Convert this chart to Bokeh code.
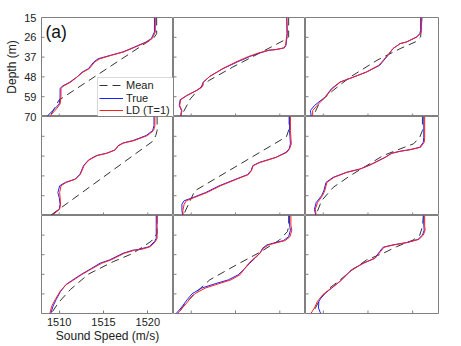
import math
from bokeh.plotting import figure
from bokeh.layouts import gridplot, row
from bokeh.models import Range1d, FixedTicker, Legend, LegendItem, Label, BoxAnnotation
from bokeh.embed import file_html
from bokeh.resources import INLINE

# ---------------- data (depth in m, sound speed in m/s) ----------------
x_ticks = [1510, 1515, 1520]
y_ticks = [15, 26, 37, 48, 59, 70]
legend_labels = ["Mean", "True", "LD (T=1)"]

# row 1, col 1
d11 = [15, 23, 26.7, 28.6, 31.4, 34.1, 36, 37.9, 39.7, 43.4, 45.3, 48.1, 50.9, 53.3, 54.6, 59.2, 63, 65.7, 69.5, 70]
t11 = [1520.75, 1520.75, 1520.4, 1519.8, 1518.5, 1517.2, 1515.8, 1514.4, 1513.9, 1513.3, 1512.6, 1512.0, 1511.2, 1510.3, 1510.1, 1510.1, 1510.0, 1509.5, 1508.7, 1508.6]
l11 = [1520.85, 1520.85, 1520.5, 1519.9, 1518.6, 1517.3, 1515.9, 1514.6, 1514.0, 1513.4, 1512.7, 1512.0, 1511.3, 1510.4, 1510.2, 1510.2, 1510.1, 1509.7, 1509.0, 1508.9]
md11 = [15, 24, 26.2, 61, 70]
m11 = [1521.0, 1521.0, 1520.7, 1509.95, 1508.95]

# row 1, col 2
d12 = [15, 23.9, 30.4, 31.9, 32.8, 33.2, 34.7, 36.6, 39.7, 43.4, 47.7, 50.9, 53.7, 55.5, 58.3, 60.7, 63.9, 66.7, 70]
t12 = [1520.8, 1520.85, 1520.7, 1520.5, 1519.6, 1518.8, 1517.75, 1516.65, 1515.2, 1513.6, 1512.1, 1511.35, 1511.15, 1510.6, 1509.5, 1508.75, 1508.65, 1508.9, 1508.8]
l12 = [1520.75, 1520.8, 1520.65, 1520.45, 1519.55, 1518.7, 1517.6, 1516.5, 1515.05, 1513.55, 1512.1, 1511.4, 1511.2, 1510.65, 1509.55, 1508.8, 1508.7, 1508.95, 1508.85]
md12 = [15, 25.8, 27.6, 42.5, 50, 54, 60.2, 70]
m12 = [1521.0, 1521.0, 1520.5, 1514.7, 1512.0, 1511.0, 1509.9, 1508.85]

# row 1, col 3
d13 = [15, 22.1, 23.9, 25.8, 28.6, 29.5, 32.3, 36, 41.6, 45.3, 48.1, 50.9, 54.6, 59.2, 63.9, 66.7, 70]
t13 = [1520.9, 1520.9, 1520.8, 1520.45, 1519.3, 1518.6, 1517.8, 1517.25, 1516.3, 1514.85, 1513.35, 1511.85, 1510.9, 1510.2, 1509.0, 1508.55, 1508.65]
l13 = [1521.0, 1521.0, 1520.9, 1520.5, 1519.35, 1518.6, 1517.8, 1517.2, 1516.2, 1514.8, 1513.4, 1511.9, 1511.0, 1510.2, 1509.3, 1508.8, 1508.8]
md13 = [15, 25.8, 28.6, 32.3, 38.8, 48.1, 55.5, 62, 70]
m13 = [1521.05, 1520.9, 1520.3, 1518.6, 1516.0, 1513.0, 1511.1, 1509.6, 1508.85]

# row 2, col 1
d21 = [15, 20, 22.8, 25.6, 28.4, 29.7, 31.2, 33.6, 35.4, 36.7, 39.2, 42.3, 47, 49.8, 51.6, 53.5, 57.2, 60, 63.7, 66.5, 68.3, 70]
t21 = [1520.7, 1520.7, 1520.55, 1519.8, 1518.3, 1517.2, 1516.65, 1516.3, 1515.35, 1514.2, 1513.3, 1512.75, 1512.35, 1511.8, 1510.7, 1510.05, 1509.85, 1510.0, 1510.1, 1510.0, 1509.55, 1509.2]
l21 = [1520.8, 1520.8, 1520.65, 1519.95, 1518.45, 1517.3, 1516.7, 1516.3, 1515.4, 1514.3, 1513.35, 1512.8, 1512.4, 1511.85, 1510.8, 1510.2, 1510.05, 1510.1, 1510.15, 1510.05, 1509.6, 1509.25]
md21 = [15, 22.8, 25.6, 28.8, 70]
m21 = [1521.05, 1521.05, 1520.9, 1520.55, 1509.0]

# row 2, col 2
d22 = [15, 22.8, 30.2, 33, 34.9, 37.7, 40.5, 42.3, 45.1, 47.3, 49.8, 53.5, 57.2, 60, 61.8, 63.7, 67.4, 70]
t22 = [1521.1, 1521.1, 1521.2, 1521.05, 1520.7, 1519.55, 1517.7, 1516.95, 1516.75, 1516.35, 1515.05, 1513.15, 1511.65, 1510.2, 1509.2, 1508.95, 1508.95, 1509.05]
l22 = [1521.2, 1521.2, 1521.3, 1521.1, 1520.8, 1519.6, 1517.8, 1517.0, 1516.8, 1516.45, 1515.15, 1513.3, 1511.8, 1510.35, 1509.45, 1509.2, 1509.05, 1509.1]
md22 = [15, 21.9, 26.2, 56.3, 70]
m22 = [1521.05, 1521.05, 1520.75, 1510.4, 1509.1]

# row 2, col 3
d23 = [15, 26.5, 29.3, 32.1, 33.4, 34.3, 35.4, 37.7, 39.2, 42, 44.2, 46, 48.8, 51.6, 56.3, 59, 62.8, 66.5, 70]
t23 = [1521.25, 1521.25, 1521.2, 1520.8, 1519.7, 1518.6, 1517.65, 1516.9, 1516.3, 1515.2, 1514.1, 1512.6, 1511.1, 1510.3, 1510.05, 1509.8, 1509.2, 1509.0, 1509.15]
l23 = [1521.35, 1521.35, 1521.3, 1520.9, 1519.8, 1518.65, 1517.7, 1516.95, 1516.35, 1515.2, 1514.1, 1512.65, 1511.2, 1510.4, 1510.15, 1509.9, 1509.35, 1509.1, 1509.2]
md23 = [15, 22.8, 26.5, 30.2, 33, 36.7, 47.9, 54.4, 61.8, 70]
m23 = [1521.1, 1521.1, 1520.8, 1520.1, 1518.6, 1516.7, 1513.0, 1511.1, 1509.8, 1509.15]

# row 3, col 1
d31 = [15, 27.8, 29.7, 32.5, 34.0, 34.5, 36.2, 39.9, 41.8, 45.1, 48.3, 51.6, 53.8, 57.6, 62.2, 65.9, 70]
t31 = [1520.95, 1520.95, 1520.75, 1520.15, 1519.0, 1518.3, 1517.2, 1515.7, 1514.6, 1513.5, 1512.4, 1511.4, 1510.75, 1510.15, 1509.65, 1509.3, 1509.05]
l31 = [1521.05, 1521.05, 1520.85, 1520.3, 1519.3, 1518.5, 1517.35, 1515.85, 1514.8, 1513.6, 1512.5, 1511.5, 1510.8, 1510.1, 1509.55, 1509.15, 1508.95]
md31 = [15, 25.1, 29.4, 36.3, 40.9, 47.9, 56.6, 64, 70]
m31 = [1521.05, 1521.05, 1520.4, 1518.3, 1516.1, 1513.3, 1511.25, 1509.9, 1509.1]

# row 3, col 2
d32 = [15, 20.4, 23.2, 26.9, 29.1, 30.2, 31.5, 33.4, 36.2, 39, 41.8, 45, 48.3, 51.1, 53.3, 55.7, 58.9, 62.2, 66.9, 70]
t32 = [1521.1, 1521.1, 1521.2, 1521.0, 1520.4, 1519.5, 1518.55, 1518.05, 1517.75, 1517.2, 1516.6, 1516.0, 1515.3, 1514.2, 1512.7, 1511.2, 1510.1, 1509.55, 1508.85, 1508.3]
l32 = [1521.25, 1521.25, 1521.35, 1521.15, 1520.6, 1519.7, 1518.75, 1518.15, 1517.75, 1517.1, 1516.5, 1516.0, 1515.5, 1514.5, 1513.1, 1511.6, 1510.4, 1509.8, 1509.0, 1508.45]
md32 = [15, 21.3, 24.1, 28.8, 35.8, 42.7, 51.1, 59.4, 65.9, 70]
m32 = [1521.0, 1521.0, 1520.85, 1519.95, 1517.7, 1515.1, 1512.1, 1510.25, 1509.1, 1508.55]

# row 3, col 3
d33 = [15, 20.4, 23.2, 26, 28.4, 30.2, 31.5, 32.8, 35.3, 39, 41.8, 45.5, 48.3, 52, 55.7, 59.4, 63.1, 66.9, 70]
t33 = [1521.25, 1521.25, 1521.3, 1521.1, 1520.6, 1519.3, 1517.8, 1516.7, 1516.3, 1515.75, 1514.45, 1513.15, 1512.6, 1511.85, 1510.95, 1510.0, 1509.5, 1509.45, 1509.7]
l33 = [1521.35, 1521.35, 1521.4, 1521.2, 1520.7, 1519.4, 1517.9, 1516.8, 1516.4, 1515.8, 1514.5, 1513.2, 1512.6, 1511.85, 1510.9, 1509.95, 1509.35, 1509.0, 1508.6]
md33 = [15, 21.3, 26, 28.8, 32.5, 36.2, 39.9, 46.4, 51.1, 55.7, 62.2, 70]
m33 = [1521.2, 1521.1, 1520.8, 1520.05, 1518.2, 1516.7, 1514.85, 1513.0, 1511.9, 1510.7, 1509.6, 1508.8]

panels = [
    [(d11, t11, l11, md11, m11), (d12, t12, l12, md12, m12), (d13, t13, l13, md13, m13)],
    [(d21, t21, l21, md21, m21), (d22, t22, l22, md22, m22), (d23, t23, l23, md23, m23)],
    [(d31, t31, l31, md31, m31), (d32, t32, l32, md32, m32), (d33, t33, l33, md33, m33)],
]

# ---------------- styling ----------------
FONT = "Liberation Sans"
X0, X1 = 1508.0, 1522.9
Y_TOP, Y_BOT = 15, 70
FW = [132, 132, 133]
FH = 99
MR = [0, 0, 8]
MT = [17, 0, 0]
MB = [0, 0, 31]
EDGE = "#808080"
TXT = "#222222"
BLUE = "#1f1fff"
RED = "#ff2020"
MEANC = "#333333"
LEG_W, LEG_H = 76, 39           # legend box size in px
LEG_ROWS = [25.5, 12.5, 0.0]    # legend row offsets (px from frame bottom)


def style_axis(ax):
    ax.axis_line_color = None
    ax.major_tick_in = 3
    ax.major_tick_out = 0
    ax.minor_tick_line_color = None
    ax.major_tick_line_color = EDGE
    ax.major_label_text_font = FONT
    ax.major_label_text_color = TXT
    ax.axis_label_text_font = FONT
    ax.axis_label_text_font_style = "normal"
    ax.axis_label_text_color = TXT


def make_panel(r, c, dep, tru, ld, mdep, mean):
    p = figure(width=FW[c] + MR[c], height=MT[r] + FH + MB[r],
               min_border_left=0, min_border_right=MR[c],
               min_border_top=MT[r], min_border_bottom=MB[r],
               x_range=Range1d(X0, X1), y_range=Range1d(Y_BOT, Y_TOP),
               output_backend="svg", toolbar_location=None)
    p.grid.visible = False
    p.outline_line_color = EDGE
    p.outline_line_width = 1
    p.background_fill_color = "white"
    p.border_fill_color = "white"
    p.yaxis.visible = False

    if r == 2 and c == 0:
        style_axis(p.xaxis[0])
        p.xaxis.ticker = FixedTicker(ticks=x_ticks)
        p.xaxis.major_label_text_font_size = "11px"
        p.xaxis.major_label_standoff = 4
        p.xaxis.axis_label = "Sound Speed (m/s)"
        p.xaxis.axis_label_text_font_size = "12px"
        p.xaxis.axis_label_standoff = 0
    else:
        p.xaxis.visible = False
        p.ray(x=x_ticks, y=[Y_BOT] * len(x_ticks), length=3, angle=math.pi / 2,
              length_units="screen", line_color=EDGE, line_width=1)
    # inward ticks on the left edge
    p.ray(x=[X0] * len(y_ticks), y=y_ticks, length=3, angle=0,
          length_units="screen", line_color=EDGE, line_width=1)

    rm = p.line(mean, mdep, line_color=MEANC, line_dash="8 5", line_width=1)
    rt = p.line(tru, dep, line_color=BLUE, line_width=1)
    rl = p.line(ld, dep, line_color=RED, line_width=1)

    if r == 0 and c == 0:
        px_x = FW[0] / (X1 - X0)
        px_y = FH / (Y_BOT - Y_TOP)
        p.add_layout(BoxAnnotation(left=X1 - LEG_W / px_x, right=X1,
                                   top=Y_BOT - LEG_H / px_y, bottom=Y_BOT,
                                   fill_color="white", fill_alpha=1.0,
                                   line_color=EDGE, line_width=1))
        for lab, ren, yoff in zip(legend_labels, [rm, rt, rl], LEG_ROWS):
            leg = Legend(items=[LegendItem(label=lab, renderers=[ren])],
                         location=(FW[0] - LEG_W + 2, yoff))
            leg.label_text_font = FONT
            leg.label_text_font_size = "11px"
            leg.label_text_color = TXT
            leg.glyph_width = 24
            leg.glyph_height = 12
            leg.label_height = 12
            leg.label_standoff = 3
            leg.padding = 1
            leg.spacing = 0
            leg.margin = 0
            leg.border_line_color = None
            leg.background_fill_alpha = 0.0
            p.add_layout(leg)
        p.add_layout(Label(x=1508.45, y=17.4, text="(a)", text_font=FONT,
                           text_font_size="17.5px", text_baseline="top",
                           text_align="left", text_color="#111111"))
    return p


# left margin figure carrying the depth tick labels and axis title of row 1
ax_fig = figure(width=41, height=MT[0] + FH * 3 + MB[2],
                min_border_left=40, min_border_right=0,
                min_border_top=MT[0], min_border_bottom=FH * 2 + MB[2],
                x_range=Range1d(0, 1), y_range=Range1d(Y_BOT, Y_TOP),
                output_backend="svg", toolbar_location=None)
ax_fig.grid.visible = False
ax_fig.outline_line_color = None
ax_fig.xaxis.visible = False
style_axis(ax_fig.yaxis[0])
ax_fig.yaxis.ticker = FixedTicker(ticks=y_ticks)
ax_fig.yaxis.major_tick_in = 0
ax_fig.yaxis.major_label_text_font_size = "11px"
ax_fig.yaxis.major_label_standoff = 4
ax_fig.yaxis.axis_label = "Depth (m)"
ax_fig.yaxis.axis_label_text_font_size = "12px"
ax_fig.yaxis.axis_label_standoff = 2

rows = []
for r in range(3):
    rows.append([make_panel(r, c, *panels[r][c]) for c in range(3)])

grid = gridplot(rows, toolbar_location=None)
layout = row(ax_fig, grid)

open("out.html", "w").write(file_html(layout, INLINE))
